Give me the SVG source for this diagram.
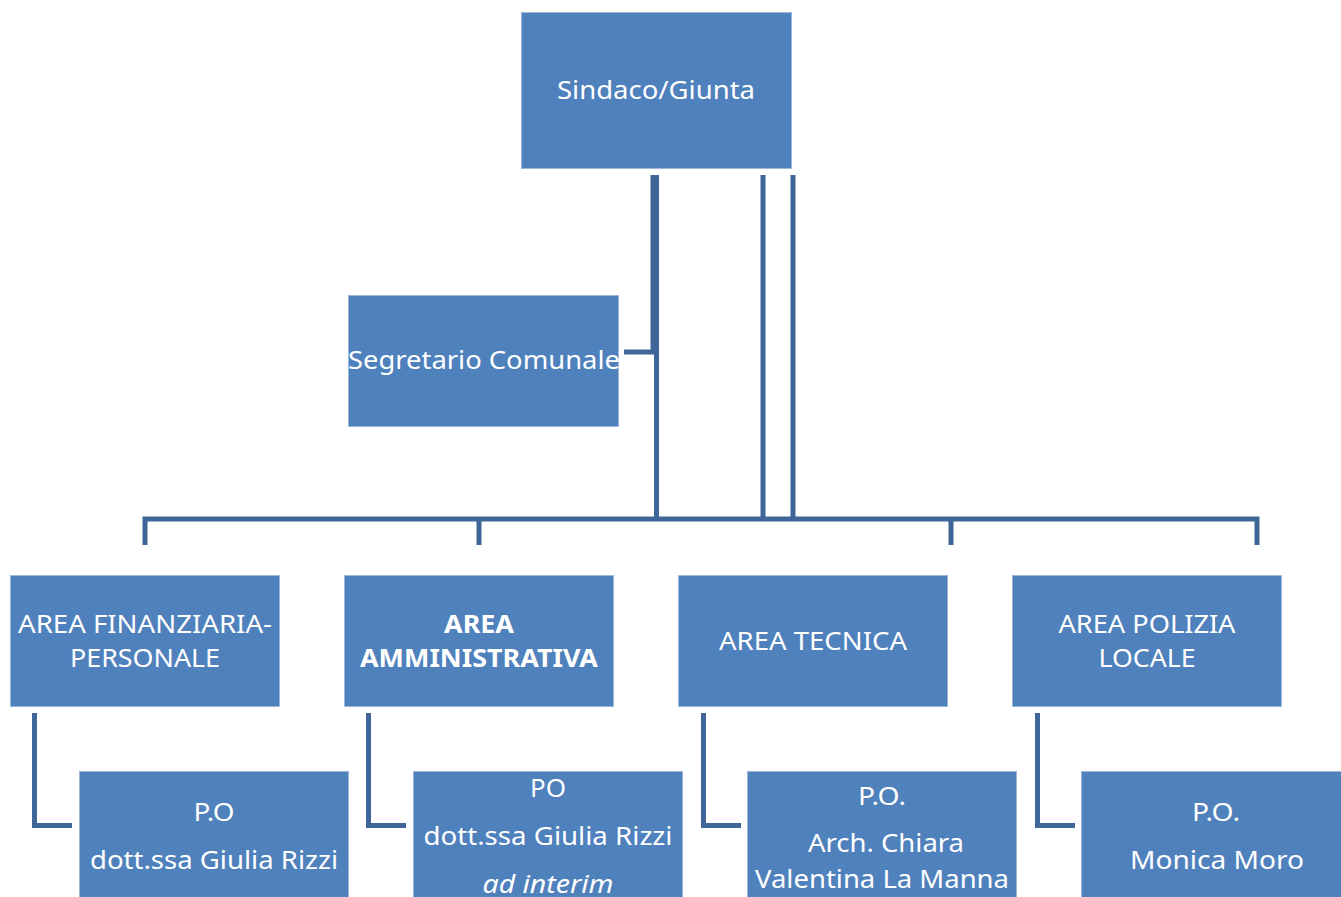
<svg xmlns="http://www.w3.org/2000/svg" width="1341" height="897" viewBox="0 0 1341 897">
<style>
.box{fill:#4F81BD;stroke:#9DB7DA;stroke-width:1}
.t{font-family:"Noto Sans","Liberation Sans",sans-serif;font-size:25px;fill:#FFFFFF;text-anchor:middle}
.b{font-weight:bold}
.i{font-style:italic}
.c{fill:none;stroke:#3E6698;stroke-width:5}
</style>
<rect width="1341" height="897" fill="#FFFFFF"/>
<g id="connectors">
<path class="c" d="M653 175V352H624"/>
<path class="c" d="M656.5 175V519"/>
<path class="c" d="M763 175V519"/>
<path class="c" d="M793 175V519"/>
<path class="c" d="M145 545V519H1257V545"/>
<path class="c" d="M479 519V545"/>
<path class="c" d="M951 519V545"/>
<path class="c" d="M34.5 713V825.5H72"/>
<path class="c" d="M368.5 713V825.5H406"/>
<path class="c" d="M703.5 713V825.5H741"/>
<path class="c" d="M1037.5 713V825.5H1075"/>
</g>
<g id="sindaco">
<rect class="box" x="521.5" y="12.5" width="270" height="156"/>
<text class="t" x="656" y="99" textLength="198" lengthAdjust="spacingAndGlyphs">Sindaco/Giunta</text>
</g>
<g id="segretario">
<rect class="box" x="348.5" y="295.5" width="270" height="131"/>
<text class="t" x="484" y="369" textLength="272" lengthAdjust="spacingAndGlyphs">Segretario Comunale</text>
</g>
<g id="area-finanziaria">
<rect class="box" x="10.5" y="575.5" width="269" height="131"/>
<text class="t" x="145" y="633" textLength="254" lengthAdjust="spacingAndGlyphs">AREA FINANZIARIA-</text>
<text class="t" x="145" y="667" textLength="150" lengthAdjust="spacingAndGlyphs">PERSONALE</text>
</g>
<g id="area-amministrativa">
<rect class="box" x="344.5" y="575.5" width="269" height="131"/>
<text class="t b" x="479" y="633" textLength="70" lengthAdjust="spacingAndGlyphs">AREA</text>
<text class="t b" x="479" y="667" textLength="238" lengthAdjust="spacingAndGlyphs">AMMINISTRATIVA</text>
</g>
<g id="area-tecnica">
<rect class="box" x="678.5" y="575.5" width="269" height="131"/>
<text class="t" x="813" y="650" textLength="188" lengthAdjust="spacingAndGlyphs">AREA TECNICA</text>
</g>
<g id="area-polizia">
<rect class="box" x="1012.5" y="575.5" width="269" height="131"/>
<text class="t" x="1147" y="633" textLength="177" lengthAdjust="spacingAndGlyphs">AREA POLIZIA</text>
<text class="t" x="1147" y="667" textLength="97" lengthAdjust="spacingAndGlyphs">LOCALE</text>
</g>
<g id="po-finanziaria">
<rect class="box" x="79.5" y="771.5" width="269" height="140"/>
<text class="t" x="214" y="821" textLength="41" lengthAdjust="spacingAndGlyphs">P.O</text>
<text class="t" x="214" y="869" textLength="248" lengthAdjust="spacingAndGlyphs">dott.ssa Giulia Rizzi</text>
</g>
<g id="po-amministrativa">
<rect class="box" x="413.5" y="771.5" width="269" height="140"/>
<text class="t" x="548" y="797" textLength="36" lengthAdjust="spacingAndGlyphs">PO</text>
<text class="t" x="548" y="845" textLength="249" lengthAdjust="spacingAndGlyphs">dott.ssa Giulia Rizzi</text>
<text class="t i" x="548" y="893" textLength="131" lengthAdjust="spacingAndGlyphs">ad interim</text>
</g>
<g id="po-tecnica">
<rect class="box" x="747.5" y="771.5" width="269" height="140"/>
<text class="t" x="882" y="805" textLength="48" lengthAdjust="spacingAndGlyphs">P.O.</text>
<text class="t" x="886" y="852" textLength="156" lengthAdjust="spacingAndGlyphs">Arch. Chiara</text>
<text class="t" x="882" y="888" textLength="254" lengthAdjust="spacingAndGlyphs">Valentina La Manna</text>
</g>
<g id="po-polizia">
<rect class="box" x="1081.5" y="771.5" width="269" height="140"/>
<text class="t" x="1216" y="821" textLength="48" lengthAdjust="spacingAndGlyphs">P.O.</text>
<text class="t" x="1217" y="869" textLength="174" lengthAdjust="spacingAndGlyphs">Monica Moro</text>
</g>
</svg>
